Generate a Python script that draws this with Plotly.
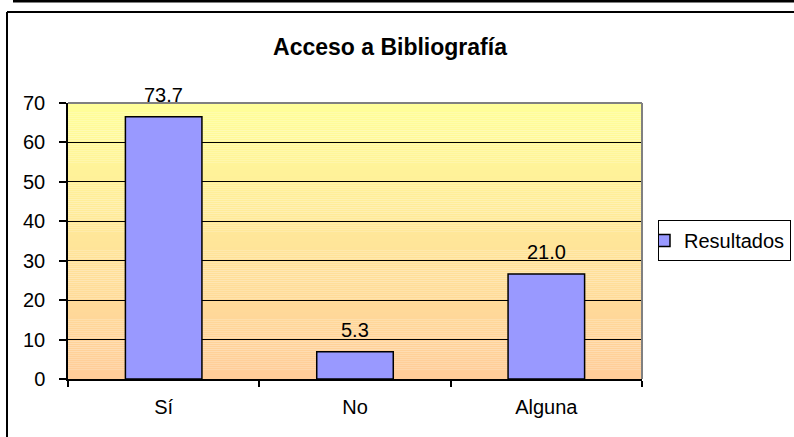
import plotly.graph_objects as go

# ---- data ----
categories = ["Sí", "No", "Alguna"]
bar_heights = [66.5, 6.9, 26.6]          # heights as drawn in the chart
value_labels = ["73.7", "5.3", "21.0"]   # labels printed above the bars
series_name = "Resultados"
y_ticks = [0, 10, 20, 30, 40, 50, 60, 70]
title_text = "Acceso a Bibliografía"

W, H = 794, 437
FONT = "Liberation Sans, Arial, sans-serif"

def px_x(p):
    return p / W

def px_y(p):
    return 1 - p / H

x_dom = [px_x(68), px_x(642)]
y_dom = [px_y(379), px_y(103)]

fig = go.Figure()
fig.add_trace(go.Bar(
    x=categories, y=bar_heights, name=series_name,
    marker=dict(color="#9999FF", line=dict(color="black", width=1.5)),
    showlegend=True,
))

shapes = []
# gradient background of the plot area
N = 140
top = (255, 255, 153)
bot = (255, 204, 153)
for i in range(N):
    t = (i + 0.5) / N
    c = tuple(round(bot[k] + (top[k] - bot[k]) * t) for k in range(3))
    shapes.append(dict(type="rect", xref="x domain", yref="y domain",
                       x0=0, x1=1, y0=i / N, y1=(i + 1) / N,
                       fillcolor="rgb(%d,%d,%d)" % c, line=dict(width=0),
                       layer="below"))
# gray plot border top & right
shapes.append(dict(type="line", xref="x domain", yref="y domain",
                   x0=0, x1=1, y0=1, y1=1, line=dict(color="#808080", width=2)))
shapes.append(dict(type="line", xref="x domain", yref="y domain",
                   x0=1, x1=1, y0=0, y1=1, line=dict(color="#808080", width=2)))
# outer frame lines
shapes.append(dict(type="line", xref="paper", yref="paper",
                   x0=px_x(13), x1=1, y0=px_y(1), y1=px_y(1),
                   line=dict(color="black", width=3)))
shapes.append(dict(type="line", xref="paper", yref="paper",
                   x0=px_x(7), x1=1, y0=px_y(12), y1=px_y(12),
                   line=dict(color="black", width=2)))
shapes.append(dict(type="line", xref="paper", yref="paper",
                   x0=px_x(7), x1=px_x(7), y0=px_y(12), y1=0,
                   line=dict(color="black", width=2)))

annotations = []
for c, h, lab in zip(categories, bar_heights, value_labels):
    annotations.append(dict(x=c, y=h, xref="x", yref="y", text=lab,
                            showarrow=False, yanchor="bottom", yshift=9,
                            font=dict(family=FONT, size=20, color="black")))

fig.update_layout(
    width=W, height=H,
    margin=dict(l=0, r=0, t=0, b=0, autoexpand=False),
    paper_bgcolor="white",
    plot_bgcolor="rgba(0,0,0,0)",
    font=dict(family=FONT, size=20, color="black"),
    title=dict(text="<b>" + title_text + "</b>", x=px_x(390), xanchor="center",
               y=px_y(47), yanchor="middle",
               font=dict(family=FONT, size=23, color="black")),
    bargap=0.6,
    shapes=shapes,
    annotations=annotations,
    legend=dict(x=px_x(658), xanchor="left", y=px_y(220), yanchor="top",
                bordercolor="black", borderwidth=1, bgcolor="white",
                font=dict(family=FONT, size=20, color="black"),
                indentation=-15, tracegroupgap=0),
    xaxis=dict(domain=x_dom, showline=True, linecolor="black", linewidth=1.5,
               ticks="outside", tickson="boundaries", ticklen=6,
               tickcolor="black", tickwidth=1.5, showgrid=False,
               ticklabelstandoff=9, automargin=False, fixedrange=True),
    yaxis=dict(domain=y_dom, range=[0, 70], tickvals=y_ticks,
               showline=True, linecolor="black", linewidth=1.5,
               ticks="outside", ticklen=7, tickcolor="black", tickwidth=1.5,
               showgrid=True, gridcolor="black", gridwidth=1,
               zeroline=False, ticklabelstandoff=10, automargin=False,
               fixedrange=True),
)

fig.write_html(
    "out.html",
    config={"displayModeBar": False},
    post_script="document.body.style.margin='0';document.body.style.overflow='hidden';",
)
